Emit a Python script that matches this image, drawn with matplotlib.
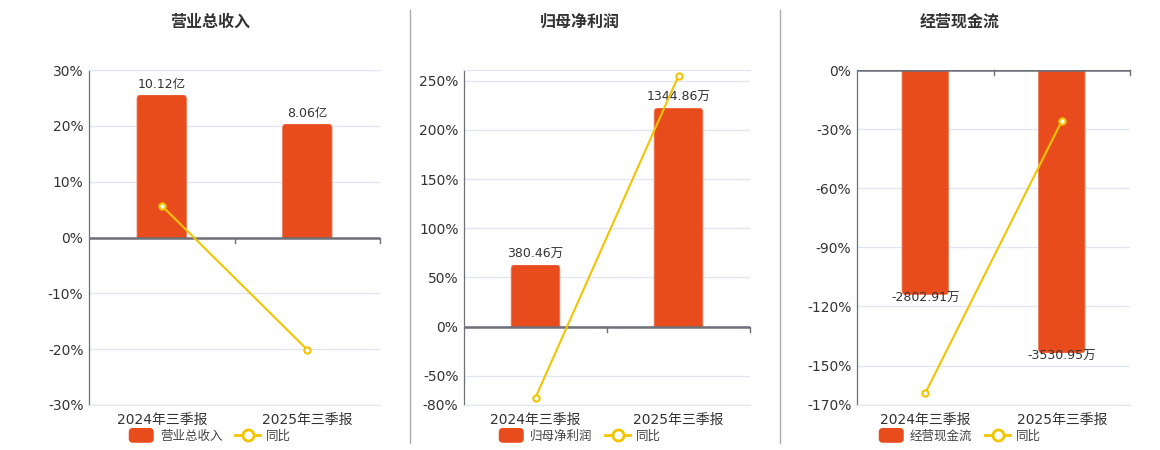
import matplotlib
matplotlib.use("Agg")
import matplotlib.pyplot as plt
from matplotlib.patches import FancyBboxPatch, Rectangle, Patch
from matplotlib.lines import Line2D
from matplotlib.legend_handler import HandlerPatch

plt.rcParams['font.family'] = ['DejaVu Sans', 'Noto Sans CJK SC']

categories = ['2024年三季报', '2025年三季报']

titles = ['营业总收入', '归母净利润', '经营现金流']

rev_values = [10.12, 8.06]
rev_labels = ['10.12亿', '8.06亿']
rev_yoy = [5.7, -20.1]

np_values = [380.46, 1344.86]
np_labels = ['380.46万', '1344.86万']
np_yoy = [-72.4, 255.0]

cf_values = [-2802.91, -3530.95]
cf_labels = ['-2802.91万', '-3530.95万']
cf_yoy = [-164.0, -25.9]

pct_ticks = [
    [-30, -20, -10, 0, 10, 20, 30],
    [-80, -50, 0, 50, 100, 150, 200, 250],
    [-170, -150, -120, -90, -60, -30, 0],
]
pct_lims = [(-30, 30), (-80, 261), (-170, 0)]
bar_lims = [(-11.89, 11.89), (-481, 1579), (-4180, 0)]

BAR = '#E84C1D'
LINE = '#F2C500'
GRID = '#E0E6F1'
AXIS = '#6E7079'
TXT = '#333333'

W, H = 1160, 450
fig = plt.figure(figsize=(W / 100, H / 100), dpi=100)

# panel geometry in pixels: left, right, top, bottom
geo = [(89, 380, 70, 405), (464, 750, 70, 405), (857, 1130, 70, 405)]
centers = [210, 580, 960]

datasets = [
    (rev_values, rev_labels, rev_yoy),
    (np_values, np_labels, np_yoy),
    (cf_values, cf_labels, cf_yoy),
]


class RoundPatchHandler(HandlerPatch):
    def create_artists(self, legend, orig_handle, xdescent, ydescent,
                       width, height, fontsize, trans):
        p = FancyBboxPatch((-xdescent, -ydescent - 1), width, height + 2,
                           boxstyle='round,pad=0,rounding_size=3',
                           facecolor=orig_handle.get_facecolor(),
                           edgecolor='none', transform=trans)
        return [p]


for i, (vals, labs, yoy) in enumerate(datasets):
    l, r, t, b = geo[i]
    rect = [l / W, 1 - b / H, (r - l) / W, (b - t) / H]
    ax = fig.add_axes(rect)
    ax.set_zorder(0)
    x = list(range(len(categories)))
    ax.set_xlim(-0.5, len(categories) - 0.5)
    ax.set_ylim(*pct_lims[i])
    ax.set_yticks(pct_ticks[i])
    ax.set_yticklabels([f'{v}%' for v in pct_ticks[i]])
    ax.set_xticks(x)
    ax.set_xticklabels(categories)
    ax.tick_params(axis='y', length=0, pad=4, labelsize=10, labelcolor=TXT)
    ax.tick_params(axis='x', length=0, pad=6, labelsize=10, labelcolor=TXT)
    for tk in pct_ticks[i]:
        ax.axhline(tk, color=GRID, lw=0.9, zorder=0)
    ax.spines['right'].set_visible(False)
    ax.spines['top'].set_color(GRID)
    ax.spines['bottom'].set_color(GRID)
    ax.spines['left'].set_color(AXIS)
    ax.spines['left'].set_linewidth(0.9)

    # bar axes
    axb = ax.twinx()
    axb.set_zorder(1)
    axb.set_ylim(*bar_lims[i])
    axb.set_xlim(-0.5, len(categories) - 0.5)
    axb.axis('off')
    bw = 0.34
    bars = axb.bar(x, vals, width=bw, color=BAR)
    px_x = (r - l) / (len(categories))
    px_y = (b - t) / (bar_lims[i][1] - bar_lims[i][0])
    rad = 4.0
    rx = rad / px_x
    ry = rad / px_y
    for bar in bars:
        bar.set_visible(False)
        bx = bar.get_x()
        bwid = bar.get_width()
        h = bar.get_height()
        if h >= 0:
            y0, hh = -ry * 2, h + ry * 2
            ylo, yh = 0, h
        else:
            y0, hh = h, -h + ry * 2
            ylo, yh = h, -h
        fp = FancyBboxPatch((bx, y0), bwid, hh,
                            boxstyle=f'round,pad=0,rounding_size={rx}',
                            mutation_aspect=ry / rx,
                            facecolor=BAR, edgecolor='#F07A5A', lw=0.6,
                            transform=axb.transData, zorder=2)
        axb.add_patch(fp)
        clip = Rectangle((bx - 0.1, ylo), bwid + 0.2, yh, transform=axb.transData)
        fp.set_clip_path(clip)
    # zero line and ticks
    axb.axhline(0, color=AXIS, lw=1.8, zorder=4)
    tick_len = 5 / px_y
    for xt in [0.5, 1.5]:
        axb.plot([xt, xt], [0, -tick_len], color=AXIS, lw=1, zorder=4,
                 clip_on=False)
    # labels
    for xi, v, lab in zip(x, vals, labs):
        if v >= 0:
            axb.annotate(lab, (xi, v), xytext=(0, 3), textcoords='offset points',
                         ha='center', va='bottom', fontsize=9, color=TXT,
                         zorder=5)
        else:
            axb.annotate(lab, (xi, v), xytext=(0, 2), textcoords='offset points',
                         ha='center', va='top', fontsize=9, color=TXT,
                         zorder=5)

    # line axes
    axl = ax.twinx()
    axl.set_zorder(2)
    axl.set_ylim(*pct_lims[i])
    axl.set_xlim(-0.5, len(categories) - 0.5)
    axl.axis('off')
    axl.plot(x, yoy, color=LINE, lw=1.5, marker='o', markersize=4.5,
             markerfacecolor='white', markeredgecolor=LINE, markeredgewidth=1.5,
             clip_on=False, zorder=6)

    fig.text(centers[i] / W, 1 - 22 / H, titles[i], ha='center', va='center',
             fontsize=11.5, fontweight='bold', color=TXT)

    handles = [
        Patch(facecolor=BAR, edgecolor=BAR, label=titles[i]),
        Line2D([], [], color=LINE, lw=2, marker='o', markersize=8,
               markerfacecolor='white', markeredgecolor=LINE,
               markeredgewidth=2, label='同比'),
    ]
    fig.legend(handles=handles, loc='center',
               bbox_to_anchor=(centers[i] / W, 1 - 436 / H), ncol=2,
               frameon=False, fontsize=9, handlelength=2.0, handleheight=1.1,
               handletextpad=0.5, columnspacing=1.0, labelcolor='#444444',
               handler_map={Patch: RoundPatchHandler()})

for xs in [410, 780]:
    fig.add_artist(Line2D([xs / W, xs / W], [1 - 10 / H, 1 - 443 / H],
                          color='#AAAAAA', lw=1))

fig.savefig('out.png', dpi=100, facecolor='white')
